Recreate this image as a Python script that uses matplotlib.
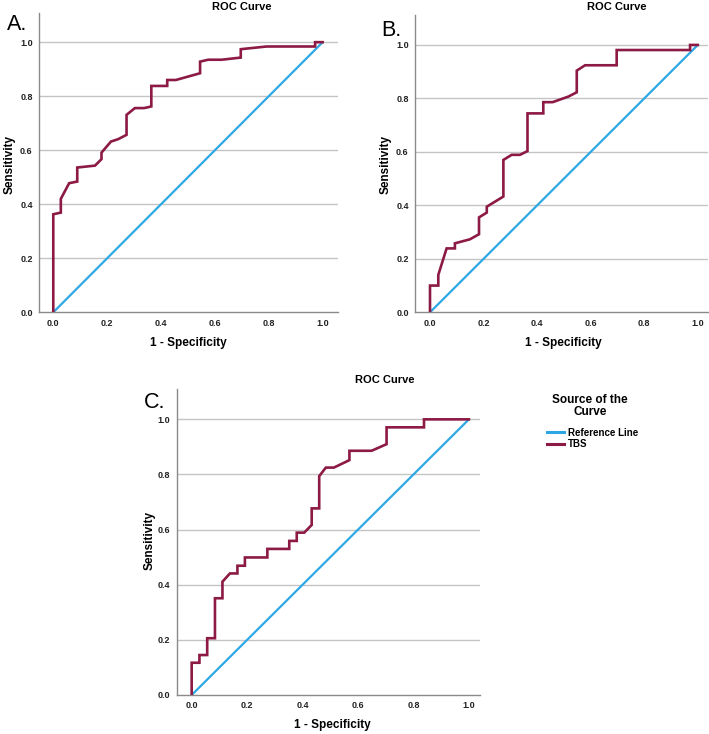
import matplotlib
matplotlib.use("Agg")
import matplotlib.pyplot as plt
from matplotlib.lines import Line2D

# ---- data ----
a_fpr = [0.0, 0.0, 0.028, 0.028, 0.059, 0.089, 0.089, 0.155, 0.179, 0.179, 0.214, 0.241, 0.272, 0.272,
         0.303, 0.337, 0.364, 0.364, 0.423, 0.423, 0.455, 0.545, 0.545, 0.575, 0.625, 0.696, 0.696,
         0.792, 0.972, 0.972, 1.0]
a_tpr = [0.0, 0.363, 0.369, 0.42, 0.478, 0.484, 0.536, 0.543, 0.567, 0.591, 0.632, 0.641, 0.657, 0.731,
         0.756, 0.756, 0.762, 0.838, 0.838, 0.860, 0.860, 0.885, 0.928, 0.935, 0.935, 0.943, 0.974,
         0.984, 0.984, 1.0, 1.0]

b_fpr = [0.0, 0.0, 0.031, 0.031, 0.062, 0.093, 0.093, 0.149, 0.183, 0.183, 0.212, 0.212, 0.274, 0.274,
         0.305, 0.336, 0.364, 0.364, 0.423, 0.423, 0.458, 0.517, 0.548, 0.548, 0.579, 0.697, 0.697,
         0.971, 0.971, 1.0]
b_tpr = [0.0, 0.10, 0.10, 0.14, 0.239, 0.239, 0.258, 0.273, 0.292, 0.355, 0.373, 0.395, 0.433, 0.57,
         0.589, 0.589, 0.603, 0.744, 0.744, 0.786, 0.786, 0.807, 0.823, 0.904, 0.924, 0.924, 0.981,
         0.981, 1.0, 1.0]

c_fpr = [0.0, 0.0, 0.028, 0.028, 0.056, 0.056, 0.084, 0.084, 0.111, 0.111, 0.138, 0.165, 0.165, 0.192,
         0.192, 0.273, 0.273, 0.352, 0.352, 0.379, 0.379, 0.406, 0.433, 0.433, 0.460, 0.460, 0.484,
         0.513, 0.569, 0.569, 0.649, 0.703, 0.703, 0.838, 0.838, 1.0]
c_tpr = [0.0, 0.117, 0.117, 0.145, 0.145, 0.206, 0.206, 0.351, 0.351, 0.411, 0.441, 0.441, 0.469, 0.469,
         0.499, 0.499, 0.530, 0.530, 0.559, 0.559, 0.589, 0.589, 0.617, 0.677, 0.677, 0.794, 0.825,
         0.825, 0.852, 0.886, 0.886, 0.910, 0.971, 0.971, 1.0, 1.0]

ref_x = [0.0, 1.0]
ref_y = [0.0, 1.0]

xticks = [0.0, 0.2, 0.4, 0.6, 0.8, 1.0]
yticks = [0.0, 0.2, 0.4, 0.6, 0.8, 1.0]
tick_labels = ["0.0", "0.2", "0.4", "0.6", "0.8", "1.0"]

panels = ["A.", "B.", "C."]
title = "ROC Curve"
xlabel = "1 - Specificity"
ylabel = "Sensitivity"
legend_title = "Source of the\nCurve"
legend_labels = ["Reference Line", "TBS"]

CURVE = "#8c1a44"
REF = "#2ea8e4"
GRID = "#c4c4c4"
SPINE = "#8a8a8a"

plt.rcParams['font.family'] = ['Liberation Sans', 'DejaVu Sans']

W, H = 709, 734
fig = plt.figure(figsize=(W / 100, H / 100), dpi=100)


def px_axes(l, t, r, b):
    return [l / W, 1 - b / H, (r - l) / W, (b - t) / H]


def fx(x):
    return x / W


def fy(y):
    return 1 - y / H


def draw(rect, fpr, tpr, xlim, ylim):
    ax = fig.add_axes(rect)
    ax.set_xlim(*xlim)
    ax.set_ylim(*ylim)
    for y in yticks[1:]:
        ax.axhline(y, color=GRID, lw=1.0, zorder=1)
    ax.plot(ref_x, ref_y, color=REF, lw=1.6, zorder=2, solid_capstyle='butt')
    ax.plot(fpr, tpr, color=CURVE, lw=1.9, zorder=3, solid_joinstyle='miter')
    for s in ['top', 'right']:
        ax.spines[s].set_visible(False)
    for s in ['left', 'bottom']:
        ax.spines[s].set_color(SPINE)
        ax.spines[s].set_linewidth(1.0)
    ax.set_xticks(xticks)
    ax.set_xticklabels(tick_labels)
    ax.set_yticks(yticks)
    ax.set_yticklabels(tick_labels)
    ax.tick_params(length=0, labelsize=6.5, pad=4.5, colors='#222222')
    for lab in ax.get_xticklabels() + ax.get_yticklabels():
        lab.set_fontweight('bold')
    return ax


# Panel A
draw(px_axes(39, 13, 338, 312.3), a_fpr, a_tpr, (-0.053, 1.057), (0, 1.108))
# Panel B
draw(px_axes(415, 15, 708, 312.3), b_fpr, b_tpr, (-0.056, 1.038), (0, 1.112))
# Panel C
axc = draw(px_axes(176.7, 389.3, 480, 695), c_fpr, c_tpr, (-0.054, 1.040), (0, 1.109))

# Titles
fig.text(fx(242), fy(7), title, ha='center', va='center', fontsize=8, fontweight='bold')
fig.text(fx(617), fy(7), title, ha='center', va='center', fontsize=8, fontweight='bold')
fig.text(fx(385), fy(380), title, ha='center', va='center', fontsize=8, fontweight='bold')

# Panel labels
fig.text(fx(7), fy(25), panels[0], ha='left', va='center', fontsize=15.5)
fig.text(fx(381), fy(30), panels[1], ha='left', va='center', fontsize=15.5)
fig.text(fx(144), fy(403), panels[2], ha='left', va='center', fontsize=15.5)

# Axis labels
fig.text(fx(188), fy(343), xlabel, ha='center', va='center', fontsize=8.5, fontweight='bold')
fig.text(fx(563), fy(343), xlabel, ha='center', va='center', fontsize=8.5, fontweight='bold')
fig.text(fx(332), fy(725), xlabel, ha='center', va='center', fontsize=8.5, fontweight='bold')

fig.text(fx(10), fy(165), ylabel, ha='center', va='center', rotation=90, fontsize=8.5, fontweight='bold')
fig.text(fx(386), fy(165), ylabel, ha='center', va='center', rotation=90, fontsize=8.5, fontweight='bold')
fig.text(fx(150), fy(540), ylabel, ha='center', va='center', rotation=90, fontsize=8.5, fontweight='bold')

# Legend
fig.text(fx(590), fy(406), legend_title, ha='center', va='center', fontsize=8.5,
         fontweight='bold', linespacing=1.0, multialignment='center')
handles = [Line2D([0], [0], color=REF, lw=2.2), Line2D([0], [0], color=CURVE, lw=2.2)]
leg = fig.legend(handles, legend_labels, loc='upper left',
                 bbox_to_anchor=(fx(542), fy(423)), frameon=False, fontsize=7,
                 handlelength=1.8, handletextpad=0.4, labelspacing=0.15, borderpad=0)
for t in leg.get_texts():
    t.set_fontweight('bold')

fig.savefig("out.png", dpi=100)
